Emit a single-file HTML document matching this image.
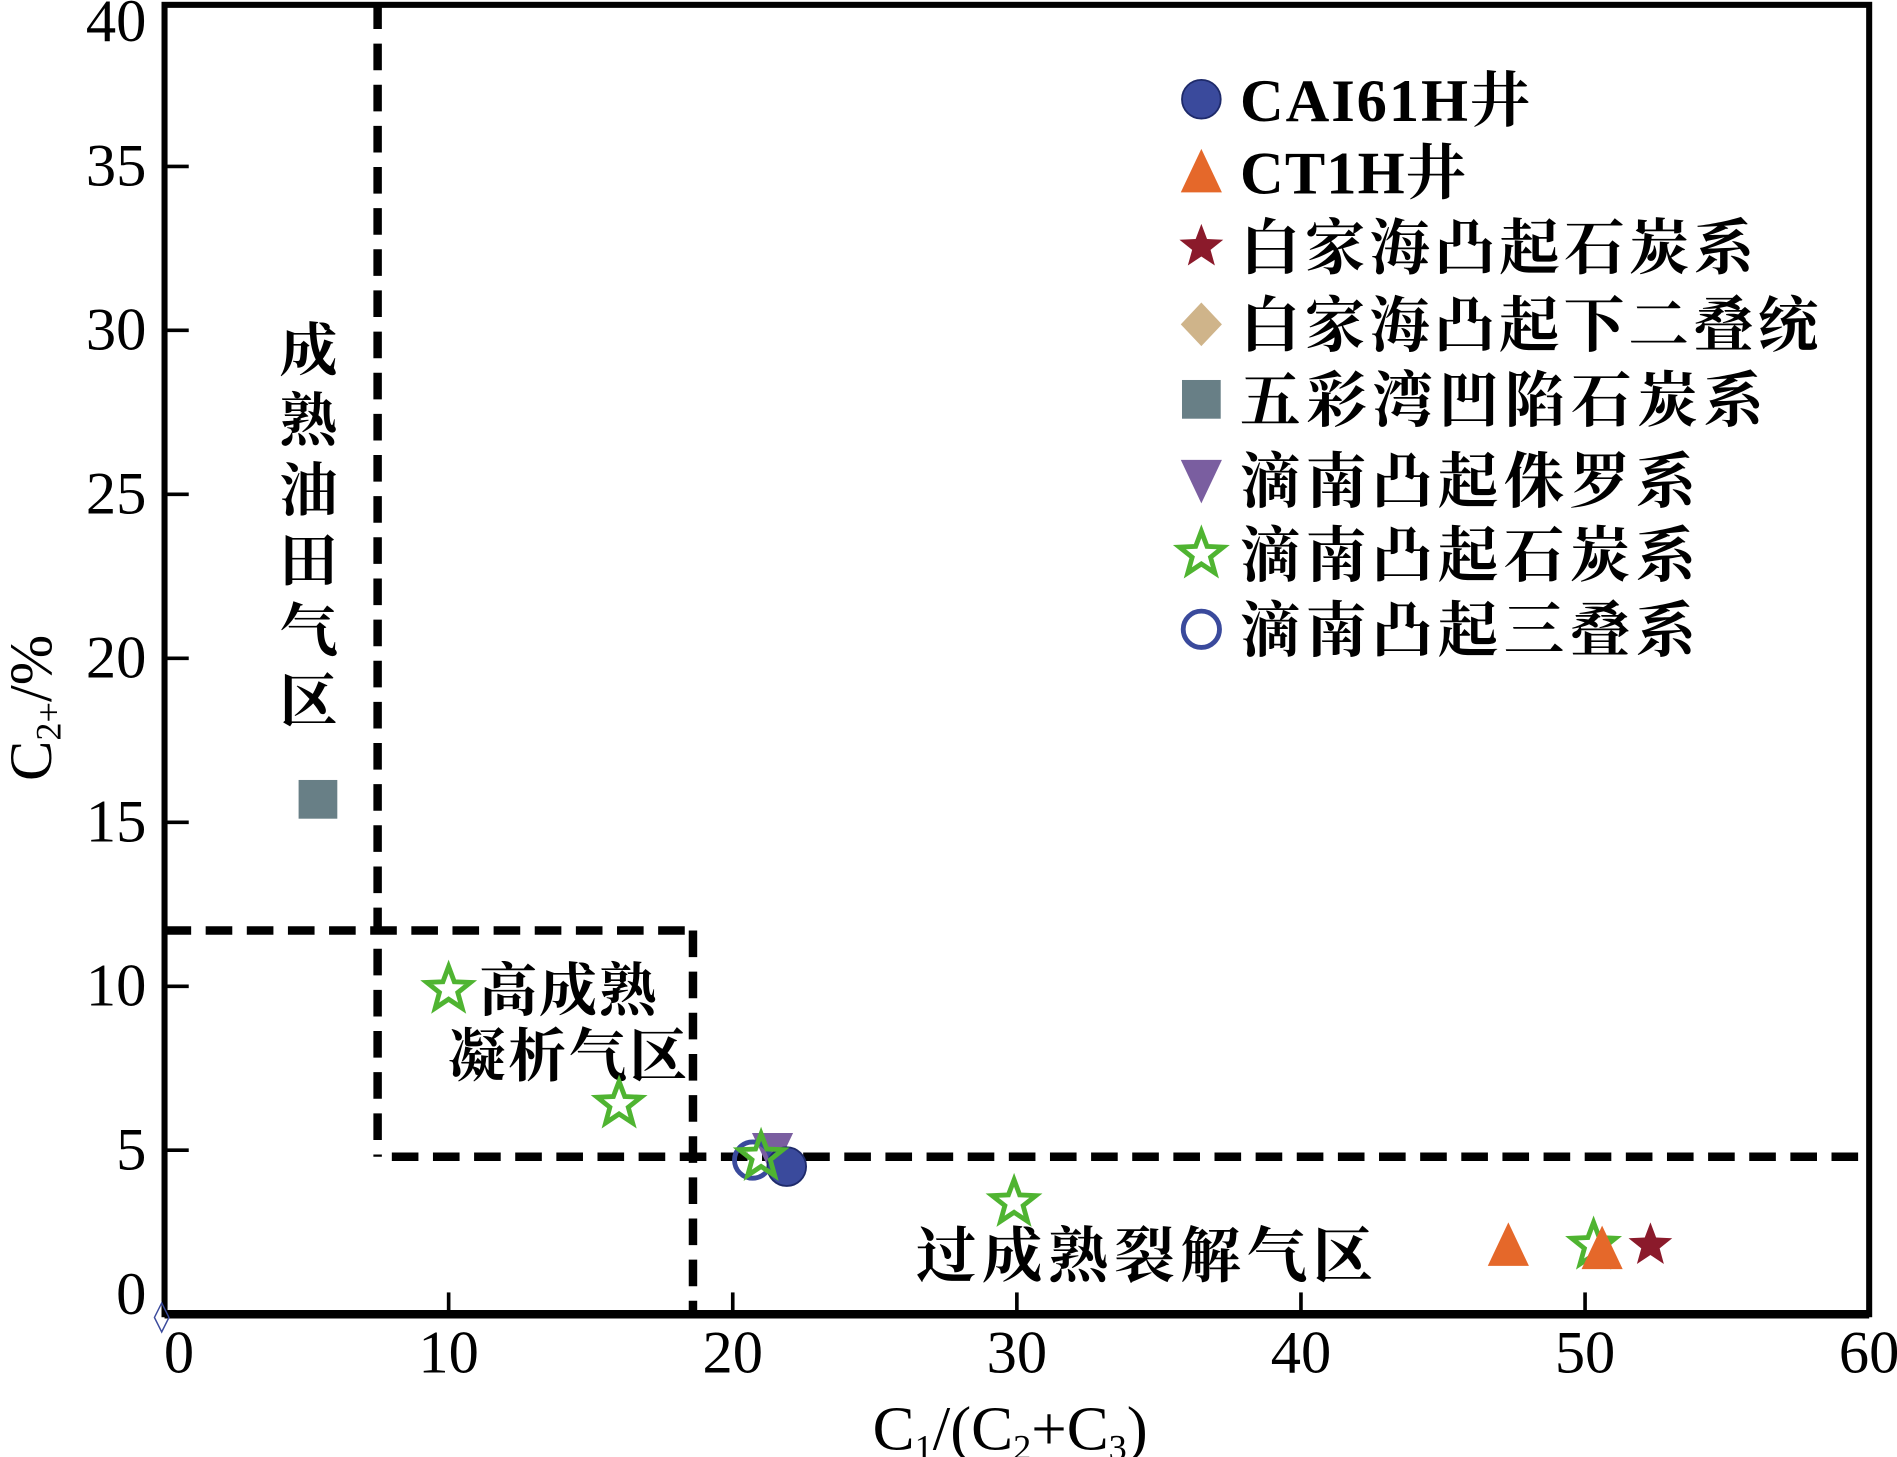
<!DOCTYPE html>
<html><head><meta charset="utf-8"><style>
html,body{margin:0;padding:0;background:#fff}
svg{display:block}
text{font-family:"Liberation Serif","Noto Serif CJK SC",serif;fill:#000}
</style></head><body>
<svg id="chart" width="1897" height="1457" viewBox="0 0 1568 1204" preserveAspectRatio="none" xmlns="http://www.w3.org/2000/svg">
<g id="grid"></g>
<g id="marks"></g>
</svg>
<script>
const xTicks=[0,10,20,30,40,50,60];
const yTicks=[0,5,10,15,20,25,30,35,40];
const cai61h=[[21.9,4.5]];
const ct1h=[[47.3,2.1],[50.6,2.0]];
const bjhCarb=[[52.3,2.1]];
const bjhPerm=[[-0.1,-0.1]];
const wcwCarb=[[5.4,15.7]];
const dnJur=[[21.4,4.9]];
const dnCarb=[[10.0,9.9],[16.0,6.4],[21.0,4.8],[29.9,3.4],[50.3,2.1]];
const dnTri=[[20.7,4.7]];
const legendLabels=["CAI61H井","CT1H井","白家海凸起石炭系","白家海凸起下二叠统","五彩湾凹陷石炭系","滴南凸起侏罗系","滴南凸起石炭系","滴南凸起三叠系"];

const NS="http://www.w3.org/2000/svg";
const X0=136,X1=1545,Y0=1086,Y1=2;
function sx(v){return X0+(v-0)/(60-0)*(X1-X0);}
function sy(v){return Y0-(v-0)/(40-0)*(Y0-Y1);}
const svg=document.getElementById('chart');
const g=document.getElementById('grid');
const m=document.getElementById('marks');
function el(tag,attrs,parent,txt){const e=document.createElementNS(NS,tag);for(const k in attrs)e.setAttribute(k,attrs[k]);if(txt!=null)e.textContent=txt;(parent||svg).appendChild(e);return e;}

const dash={stroke:'#000','stroke-width':7,'stroke-dasharray':'22 12',fill:'none'};
let d;
d=el('line',Object.assign({x1:sx(7.5),y1:sy(40),x2:sx(7.5),y2:sy(4.8)},dash),g);


d=el('line',Object.assign({x1:sx(8.0),y1:sy(4.8),x2:sx(60),y2:sy(4.8)},dash),g);


d=el('line',Object.assign({x1:sx(0),y1:sy(11.7),x2:sx(18.6),y2:sy(11.7)},dash),g);


d=el('line',Object.assign({x1:sx(18.6),y1:sy(11.7),x2:sx(18.6),y2:sy(0)},dash),g);



d=el('rect',{x:X0,y:Y1+2,width:X1-X0,height:Y0-Y1-2,fill:'none',stroke:'#000','stroke-width':5},g);


el('line',{x1:X0,y1:Y0,x2:X1,y2:Y0,stroke:'#000','stroke-width':7},g);

xTicks.forEach(t=>{
  const tk=el('line',{x1:sx(t),y1:Y0,x2:sx(t),y2:Y0-18,stroke:'#000','stroke-width':3},g);
  
  
  const lb=el('text',{x:sx(t)+(t===0?12:0),y:1134,'text-anchor':'middle','font-size':50},g,String(t));
  
  
});
yTicks.forEach(t=>{
  if(t>0&&t<40){const tk=el('line',{x1:X0,y1:sy(t),x2:X0+20,y2:sy(t),stroke:'#000','stroke-width':3},g);
  
  }
  const lb=el('text',{x:121,y:sy(t)+(t===0?0:16)+(t===40?16:0),'text-anchor':'end','font-size':50},g,String(t));
  
  
});

let t=el('text',{x:835,y:1198,'text-anchor':'middle','font-size':52},g);


t.innerHTML='C<tspan font-size="30" dy="8">1</tspan><tspan dy="-8">/(C</tspan><tspan font-size="30" dy="8">2</tspan><tspan dy="-8">+C</tspan><tspan font-size="30" dy="8">3</tspan><tspan dy="-8">)</tspan>';
t=el('text',{x:0,y:0,'text-anchor':'middle','font-size':50,transform:'translate(42,585) rotate(-90)'},g);


t.innerHTML='C<tspan font-size="30" dy="8">2+</tspan><tspan dy="-8">/%</tspan>';

const vt=['成','熟','油','田','气','区'];
vt.forEach((c,i)=>{const e=el('text',{x:255,y:306+i*58,'text-anchor':'middle','font-size':48,'font-weight':'bold'},g,c);

});
t=el('text',{x:396,y:835,'font-size':48,'font-weight':'bold',textLength:147,lengthAdjust:'spacing'},g,'高成熟');


t=el('text',{x:370,y:889,'font-size':48,'font-weight':'bold',textLength:198,lengthAdjust:'spacing'},g,'凝析气区');


t=el('text',{x:757,y:1055,'font-size':50,'font-weight':'bold',textLength:378,lengthAdjust:'spacing'},g,'过成熟裂解气区');



function starPts(cx,cy,R){const r=R*0.42;let p=[];for(let i=0;i<10;i++){const a=-Math.PI/2+i*Math.PI/5;const rr=i%2?r:R;p.push((cx+rr*Math.cos(a)).toFixed(1)+','+(cy+rr*Math.sin(a)).toFixed(1));}return p.join(' ');}
const draw={
 circle:(x,y,p)=>el('circle',{cx:x,cy:y,r:16,fill:'#3a4a9c',stroke:'#1e2a6a','stroke-width':1.5},p),
 tri:(x,y,p)=>el('polygon',{points:`${x},${y-19} ${x-17},${y+17} ${x+17},${y+17}`,fill:'#e5682a'},p),
 redstar:(x,y,p)=>el('polygon',{points:starPts(x,y,19),fill:'#8b1a2b'},p),
 diamond:(x,y,p)=>el('polygon',{points:`${x},${y-18} ${x+17},${y} ${x},${y+18} ${x-17},${y}`,fill:'#cfb48a'},p),
 smalldiamond:(x,y,p)=>el('polygon',{points:`${x},${y-12} ${x+6},${y} ${x},${y+12} ${x-6},${y}`,fill:'none',stroke:'#3a4a9c','stroke-width':1.2},p),
 square:(x,y,p)=>el('rect',{x:x-16,y:y-16,width:32,height:32,fill:'#687f86'},p),
 dtri:(x,y,p)=>el('polygon',{points:`${x-17},${y-17} ${x+17},${y-17} ${x},${y+19}`,fill:'#7a5ea0'},p),
 gstar:(x,y,p)=>el('polygon',{points:starPts(x,y,19),fill:'none',stroke:'#4fb431','stroke-width':4},p),
 ocircle:(x,y,p)=>el('circle',{cx:x,cy:y,r:15,fill:'none',stroke:'#3a4a9c','stroke-width':4},p)
};
function series(data,shape,name){
  data.forEach(pt=>{const e=draw[shape](sx(pt[0]),sy(pt[1]),m);
    
    });
}
series(dnJur,'dtri','point-dinan-jurassic');
series(dnTri,'ocircle','point-dinan-triassic');
series(cai61h,'circle','point-cai61h');
series(dnCarb,'gstar','point-dinan-carboniferous');
series(ct1h,'tri','point-ct1h');
series(bjhCarb,'redstar','point-baijiahai-carboniferous');
series(bjhPerm,'smalldiamond','point-baijiahai-permian');
series(wcwCarb,'square','point-wucaiwan-carboniferous');

const legShapes=['circle','tri','redstar','diamond','square','dtri','gstar','ocircle'];
const legY=[82,142,204,268,330,397,458,520];
const legW=[240,187,425,478,433,377,377,377];
legendLabels.forEach((lab,i)=>{
  const gg=el('g',{},svg);
  
  
  draw[legShapes[i]](993,legY[i],gg);
  const tx=el('text',{x:1025,y:legY[i]+18,'font-size':50,'font-weight':'bold',textLength:legW[i],lengthAdjust:'spacing'},gg,lab);
  
  
});
</script>
</body></html>
